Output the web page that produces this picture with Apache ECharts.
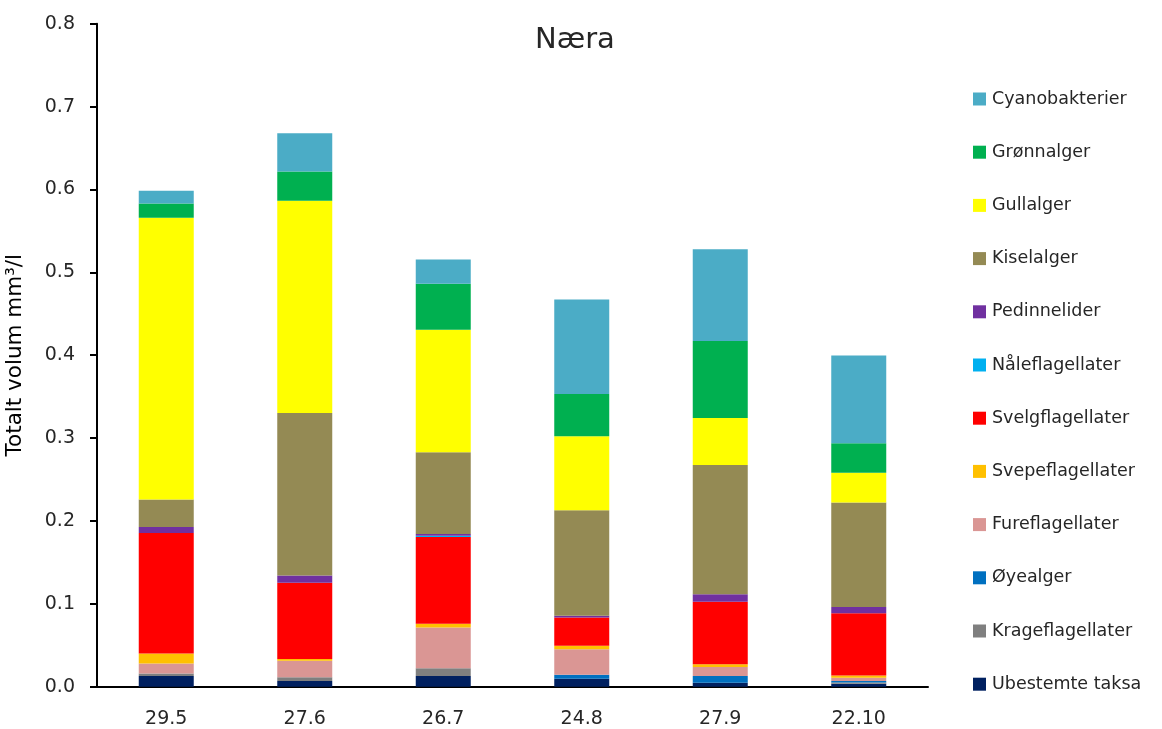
<!DOCTYPE html>
<html>
<head>
<meta charset="utf-8">
<script src="https://cdn.jsdelivr.net/npm/echarts@6/dist/echarts.min.js"></script>
<style>
  html, body { margin: 0; padding: 0; background: #ffffff; }
  #chart { width: 1162px; height: 729px; }
</style>
</head>
<body>
<div id="chart"></div>
<script>
// Sampling dates
const categories = ['29.5', '27.6', '26.7', '24.8', '27.9', '22.10'];

// Total volume (mm³/l) per algal group, bottom of the stack first
const ubestemte = [0.013, 0.007, 0.013, 0.0097, 0.0048, 0.0036];
const krage     = [0.003, 0.0044, 0.0093, 0, 0, 0.0015];
const oyealger  = [0, 0, 0, 0.0048, 0.008, 0.0017];
const fure      = [0.012, 0.020, 0.049, 0.0306, 0.011, 0.004];
const svepe     = [0.012, 0.002, 0.0048, 0.0044, 0.0032, 0.0027];
const svelg     = [0.1456, 0.092, 0.1046, 0.034, 0.0756, 0.0752];
const nale      = [0, 0, 0.0015, 0, 0, 0];
const pedin     = [0.0072, 0.0089, 0.002, 0.002, 0.0089, 0.0076];
const kisel     = [0.033, 0.196, 0.0986, 0.1275, 0.156, 0.126];
const gull      = [0.340, 0.256, 0.148, 0.0893, 0.0567, 0.036];
const gronn     = [0.0173, 0.0355, 0.0555, 0.051, 0.0929, 0.0354];
const cyano     = [0.0153, 0.046, 0.0293, 0.114, 0.1106, 0.106];

// Y axis tick values
const yTicks = [0, 0.1, 0.2, 0.3, 0.4, 0.5, 0.6, 0.7, 0.8];

const groups = [
  { name: 'Ubestemte taksa',   data: ubestemte, color: '#002060' },
  { name: 'Krageflagellater',  data: krage,     color: '#7F7F7F' },
  { name: 'Øyealger',          data: oyealger,  color: '#0070C0' },
  { name: 'Fureflagellater',   data: fure,      color: '#DA9694' },
  { name: 'Svepeflagellater',  data: svepe,     color: '#FFC000' },
  { name: 'Svelgflagellater',  data: svelg,     color: '#FF0000' },
  { name: 'Nåleflagellater',   data: nale,      color: '#00B0F0' },
  { name: 'Pedinnelider',      data: pedin,     color: '#7030A0' },
  { name: 'Kiselalger',        data: kisel,     color: '#948A54' },
  { name: 'Gullalger',         data: gull,      color: '#FFFF00' },
  { name: 'Grønnalger',        data: gronn,     color: '#00B050' },
  { name: 'Cyanobakterier',    data: cyano,     color: '#4BACC6' }
];

const FONT = '"DejaVu Sans", sans-serif';
const TEXT = '#262626';

const chart = echarts.init(document.getElementById('chart'), null, { renderer: 'canvas' });

chart.setOption({
  animation: false,
  backgroundColor: '#ffffff',
  title: {
    text: 'Næra',
    left: 530,
    top: 21,
    textStyle: { fontFamily: FONT, fontSize: 29, fontWeight: 'normal', color: TEXT }
  },
  legend: {
    orient: 'vertical',
    left: 968,
    top: 84,
    itemWidth: 13,
    itemHeight: 13,
    itemGap: 33.2,
    icon: 'rect',
    data: groups.map(g => g.name).reverse(),
    textStyle: { fontFamily: FONT, fontSize: 17.5, color: TEXT, lineHeight: 20, padding: [0, 0, 0, 1] }
  },
  grid: {
    left: 97,
    right: 234,
    top: 23.7,
    bottom: 42.3,
    containLabel: false,
    outerBoundsMode: 'none'
  },
  xAxis: {
    type: 'category',
    data: categories,
    axisLine: { show: true, lineStyle: { color: '#000000', width: 2 } },
    axisTick: { show: false },
    axisLabel: { fontFamily: FONT, fontSize: 19, color: TEXT, margin: 23 }
  },
  yAxis: {
    type: 'value',
    min: yTicks[0],
    max: yTicks[yTicks.length - 1],
    interval: 0.1,
    name: 'Totalt volum mm³/l',
    nameLocation: 'middle',
    nameGap: 71,
    nameTextStyle: { fontFamily: FONT, fontSize: 21.5, color: '#000000' },
    axisLine: { show: true, lineStyle: { color: '#000000', width: 2 } },
    axisTick: { show: true, inside: false, length: 7, lineStyle: { color: '#000000', width: 2 } },
    splitLine: { show: false },
    axisLabel: {
      fontFamily: FONT, fontSize: 19, color: TEXT, margin: 22,
      formatter: v => v.toFixed(1)
    }
  },
  series: groups.map(g => ({
    name: g.name,
    type: 'bar',
    stack: 'total',
    barWidth: 55,
    data: g.data,
    itemStyle: { color: g.color },
    emphasis: { disabled: true }
  }))
});
</script>
</body>
</html>
